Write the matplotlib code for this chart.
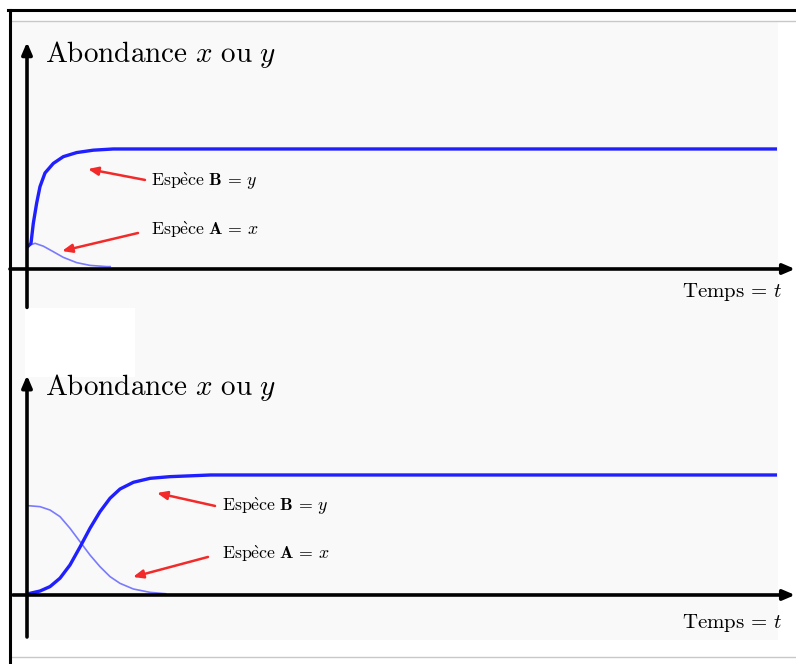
import numpy as np
import matplotlib; matplotlib.use("Agg")
import matplotlib.pyplot as plt
from matplotlib.patches import Rectangle
from matplotlib.lines import Line2D

plt.rcParams["mathtext.fontset"] = "cm"
W, H = 796, 664
BLUE = "#1f1fff"; LBLUE = "#7a7aff"; RED = "#f22a2a"; BG = "#f9f9f9"

# ---- data (t, abundance) ----
t_b1 = [0, 0.053, 0.084, 0.129, 0.173, 0.24, 0.351, 0.484, 0.662, 0.884, 1.15, 10.0]
y_b1 = [0.18, 0.214, 0.38, 0.55, 0.686, 0.80, 0.88, 0.936, 0.97, 0.99, 1.0, 1.0]
t_a1 = [0, 0.04, 0.107, 0.218, 0.351, 0.484, 0.662, 0.84, 1.06, 1.12]
x_a1 = [0.18, 0.20, 0.214, 0.19, 0.144, 0.097, 0.053, 0.03, 0.02, 0.02]
t_b2 = [0, 0.04, 0.173, 0.307, 0.44, 0.573, 0.707, 0.84, 0.973, 1.107, 1.24, 1.418, 1.64, 1.907, 2.22, 2.45, 10.0]
y_b2 = [0.0, 0.014, 0.033, 0.07, 0.14, 0.25, 0.40, 0.556, 0.694, 0.806, 0.883, 0.939, 0.972, 0.986, 0.994, 1.0, 1.0]
t_a2 = [0, 0.173, 0.307, 0.44, 0.573, 0.707, 0.84, 0.973, 1.107, 1.24, 1.418, 1.64, 1.86]
x_a2 = [0.745, 0.736, 0.708, 0.653, 0.556, 0.444, 0.333, 0.236, 0.153, 0.097, 0.05, 0.022, 0.01]

fig = plt.figure(figsize=(W/100, H/100), dpi=100)

def fr(x0, y0, w, h):
    return [x0/W, 1-(y0+h)/H, w/W, h/H]

# frame / background decoration (behind the axes)
deco = dict(transform=fig.transFigure, zorder=-10)
fig.add_artist(Rectangle((12/W, 1-640/H), 766/W, 618/H, color=BG, lw=0, **deco))
fig.add_artist(Rectangle((25/W, 1-377/H), 110/W, 69/H, color="white", lw=0, **deco))
fig.add_artist(Line2D([10/W, 1], [1-21/H]*2, color="#c8c8c8", lw=1, **deco))
fig.add_artist(Line2D([12/W, 1], [1-657/H]*2, color="#c8c8c8", lw=1, **deco))
fig.add_artist(Line2D([8/W, 1], [1-10/H]*2, color="black", lw=2.2, **deco))
fig.add_artist(Line2D([10/W]*2, [0, 1-10/H], color="black", lw=2.2, **deco))

def panel(pos, ylim, tb, yb, ta, xa, xstart, ybot, ytop, lab_y, bB, bA, tail_B, head_B, tail_A, head_A, temps_y):
    ax = fig.add_axes(pos)
    ax.set_xlim(-0.36, 10.253); ax.set_ylim(*ylim); ax.axis("off")
    arr = dict(arrowstyle="-|>,head_length=0.7,head_width=0.3", color="black", lw=2.6, shrinkA=0, shrinkB=0)
    ax.annotate("", xy=(10.24, 0), xytext=(xstart, 0), arrowprops=arr)
    ax.annotate("", xy=(0, ytop), xytext=(0, ybot), arrowprops=arr)
    ax.plot(ta, xa, color=LBLUE, lw=1.2, solid_capstyle="butt", solid_joinstyle="round")
    ax.plot(tb, yb, color=BLUE, lw=2.4, solid_capstyle="butt", solid_joinstyle="round")
    ax.text(0.24, lab_y, r"$\mathrm{Abondance}\ x\ \mathrm{ou}\ y$", fontsize=21, va="baseline")
    ra = dict(arrowstyle="-|>,head_length=0.6,head_width=0.25", color=RED, lw=1.8, shrinkA=0, shrinkB=0)
    ax.text(bB[0], bB[1], r"$\mathrm{Esp\grave{e}ce}\ \mathbf{B}\,=\,y$", fontsize=12.8, va="baseline")
    ax.text(bA[0], bA[1], r"$\mathrm{Esp\grave{e}ce}\ \mathbf{A}\,=\,x$", fontsize=12.8, va="baseline")
    ax.annotate("", xy=head_B, xytext=tail_B, arrowprops=ra)
    ax.annotate("", xy=head_A, xytext=tail_A, arrowprops=ra)
    ax.text(10.07, temps_y, r"$\mathrm{Temps}\,=\,t$", fontsize=15, ha="right", va="baseline")
    return ax

panel(fr(0, 22, W, 285), (-0.3167, 2.058), t_b1, y_b1, t_a1, x_a1, -0.227, -0.32, 1.89, 1.725,
      (1.653, 0.69), (1.653, 0.283), (1.573, 0.742), (0.813, 0.833), (1.48, 0.30), (0.467, 0.15), -0.233)
panel(fr(0, 330, W, 315), (-0.4167, 2.208), t_b2, y_b2, t_a2, x_a2, -0.187, -0.35, 1.83, 1.667,
      (2.6, 0.70), (2.6, 0.30), (2.507, 0.742), (1.733, 0.85), (2.413, 0.317), (1.413, 0.15), -0.275)

fig.savefig("out.png", dpi=100)
